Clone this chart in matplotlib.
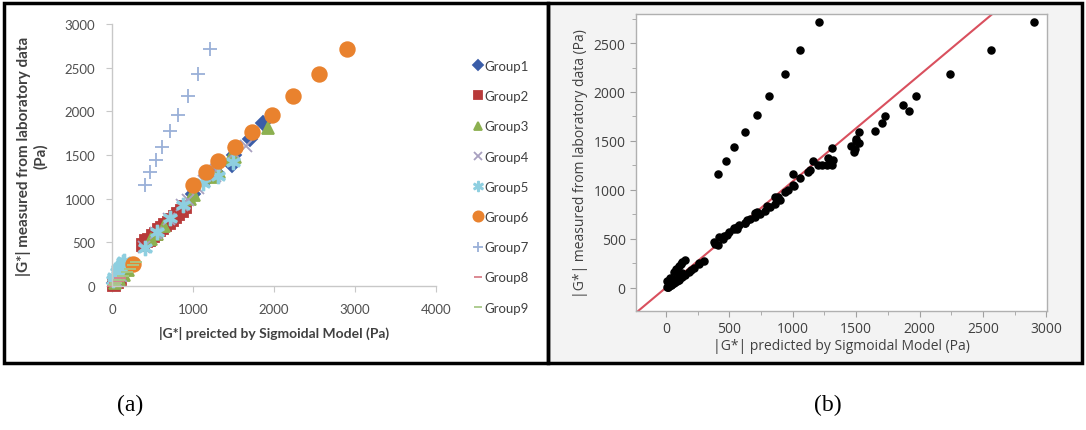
import numpy as np
import matplotlib
matplotlib.use('Agg')
import matplotlib.pyplot as plt
from matplotlib.patches import Rectangle
from matplotlib.ticker import MultipleLocator

# ---------------- data ----------------
g1_x = [30, 80, 130, 450, 620, 800, 1000, 1200, 1300, 1480, 1500, 1700, 1870]
g1_y = [40, 90, 150, 500, 660, 840, 1050, 1250, 1290, 1390, 1500, 1680, 1870]
g2_x = [20, 60, 100, 380, 420, 460, 500, 540, 580, 620, 660, 700, 740, 780, 820, 860, 900]
g2_y = [15, 50, 85, 470, 520, 530, 570, 600, 640, 660, 700, 720, 760, 790, 830, 860, 900]
g3_x = [40, 90, 150, 200, 480, 560, 640, 960, 1010, 1230, 1320, 1460, 1520, 1920]
g3_y = [30, 80, 130, 180, 540, 600, 690, 1000, 1040, 1250, 1310, 1450, 1480, 1810]
g4_x = [50, 110, 390, 540, 700, 860, 940, 1060, 1140, 1270, 1280, 1500, 1650]
g4_y = [60, 120, 450, 610, 770, 930, 980, 1120, 1200, 1260, 1330, 1520, 1600]
g5_x = [10, 30, 60, 80, 100, 120, 130, 150, 410, 560, 720, 880, 1120, 1310, 1490]
g5_y = [70, 100, 160, 190, 220, 240, 270, 290, 440, 620, 780, 930, 1180, 1260, 1420]
g6_x = [260, 1000, 1160, 1310, 1520, 1730, 1970, 2240, 2560, 2900]
g6_y = [250, 1160, 1300, 1430, 1590, 1760, 1960, 2180, 2430, 2710]
g7_x = [410, 470, 540, 620, 720, 810, 940, 1060, 1210]
g7_y = [1160, 1300, 1440, 1590, 1770, 1960, 2180, 2430, 2710]
g8_x = [10, 40, 70, 100]
g8_y = [5, 30, 60, 90]
g9_x = [20, 50, 90, 130, 180, 220, 260, 300]
g9_y = [10, 40, 70, 110, 160, 200, 240, 280]

groups = ['Group1', 'Group2', 'Group3', 'Group4', 'Group5',
          'Group6', 'Group7', 'Group8', 'Group9']
xs = [g1_x, g2_x, g3_x, g4_x, g5_x, g6_x, g7_x, g8_x, g9_x]
ys = [g1_y, g2_y, g3_y, g4_y, g5_y, g6_y, g7_y, g8_y, g9_y]

# fitted line in panel (b)
fit_slope = 1.085
fit_icpt = 3.0

# ---------------- styles ----------------
markers = ['D', 's', '^', 'x', '$\u2217$', 'o', '+', '_', '_']
sizes = [7, 8, 8, 8, 10, 10.5, 10, 8, 8]
colors = ['#3A5DA8', '#B83A3A', '#8CB050', '#A8A0C0', '#8ECFE0',
          '#E9822E', '#9AB0D8', '#D9808A', '#A8C888']

W, H = 1086, 431
fig = plt.figure(figsize=(W / 100, H / 100), dpi=100)
fig.patch.set_facecolor('white')

def fx(px):
    return px / W

def fy(py):
    return 1 - py / H

# grey background of panel (b) + black borders
fig.patches.append(Rectangle((fx(549), fy(364)), fx(1082) - fx(549), fy(5) - fy(364),
                             transform=fig.transFigure, facecolor='#f3f3f3',
                             edgecolor='none', zorder=-5))
fig.patches.append(Rectangle((fx(4), fy(364)), fx(548) - fx(4), fy(4) - fy(364),
                             transform=fig.transFigure, facecolor='none',
                             edgecolor='black', lw=2.5, zorder=5))
fig.patches.append(Rectangle((fx(548), fy(364)), fx(1082) - fx(548), fy(4) - fy(364),
                             transform=fig.transFigure, facecolor='none',
                             edgecolor='black', lw=2.5, zorder=5))

# ---------------- panel (a) ----------------
axa = fig.add_axes([fx(112), fy(287), fx(436) - fx(112), fy(25) - fy(287)])
for i in range(9):
    axa.plot(xs[i], ys[i], linestyle='none', marker=markers[i], ms=sizes[i],
             color=colors[i], mec=colors[i], mew=1.3, label=groups[i],
             clip_on=False)
axa.set_xlim(0, 4000)
axa.set_ylim(0, 3000)
axa.xaxis.set_major_locator(MultipleLocator(1000))
axa.yaxis.set_major_locator(MultipleLocator(500))
for s in ['top', 'right']:
    axa.spines[s].set_visible(False)
for s in ['left', 'bottom']:
    axa.spines[s].set_color('#c8c8c8')
    axa.spines[s].set_linewidth(1.0)
axa.tick_params(colors='#c8c8c8', labelcolor='#505050', length=4, labelsize=9.5, pad=8)
for t in axa.get_xticklabels() + axa.get_yticklabels():
    t.set_family('Lato')
axa.set_xlabel('|G*| preicted by Sigmoidal Model (Pa)', fontsize=10, fontweight='bold',
               family='Lato', color='#404040', labelpad=8)
axa.set_ylabel('|G*| measured from laboratory data\n(Pa)', fontsize=11,
               fontweight='bold', family='Lato', color='#404040', labelpad=12)
leg = axa.legend(loc='upper left', bbox_to_anchor=(fx(462), fy(49)),
                 bbox_transform=fig.transFigure, frameon=False,
                 prop={'family': 'Lato', 'size': 9.5}, labelspacing=1.38,
                 handlelength=0.6, handletextpad=0.2, markerscale=0.7)
for t in leg.get_texts():
    t.set_color('#404040')

# ---------------- panel (b) ----------------
axb = fig.add_axes([fx(636), fy(312), fx(1047) - fx(636), fy(15) - fy(312)])
axb.set_facecolor('white')
all_x = np.concatenate([np.array(v) for v in xs])
all_y = np.concatenate([np.array(v) for v in ys])
axb.scatter(all_x, all_y, s=26, color='black', zorder=3)
xl = np.array([-300, 3100])
axb.plot(xl, fit_slope * xl + fit_icpt, color='#D9505E', lw=1.5, zorder=2)
axb.set_xlim(-236, 3005)
axb.set_ylim(-235, 2796)
axb.xaxis.set_major_locator(MultipleLocator(500))
axb.xaxis.set_minor_locator(MultipleLocator(250))
axb.yaxis.set_major_locator(MultipleLocator(500))
axb.yaxis.set_minor_locator(MultipleLocator(250))
for s in axb.spines.values():
    s.set_color('#b0b0b0')
    s.set_linewidth(1.0)
axb.tick_params(which='both', colors='#a0a0a0', labelcolor='#404040',
                labelsize=10, length=4)
axb.tick_params(which='minor', length=3)
for t in axb.get_xticklabels() + axb.get_yticklabels():
    t.set_family('Open Sans')
axb.set_xlabel('|G*| predicted by Sigmoidal Model (Pa)', fontsize=10,
               family='Open Sans', color='#404040', labelpad=1)
axb.set_ylabel('|G*| measured from laboratory data (Pa)', fontsize=10,
               family='Open Sans', color='#404040', labelpad=4)

# ---------------- captions ----------------
fig.text(fx(130), fy(405), '(a)', ha='center', va='center', fontsize=17,
         family='Liberation Serif')
fig.text(fx(828), fy(405), '(b)', ha='center', va='center', fontsize=17,
         family='Liberation Serif')

fig.savefig('out.png', dpi=100)
